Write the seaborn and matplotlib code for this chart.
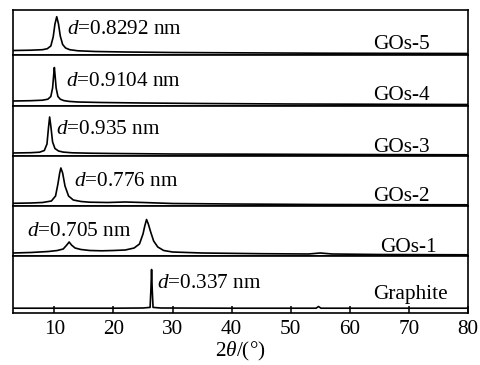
import matplotlib
matplotlib.use("Agg")
import matplotlib.pyplot as plt
import seaborn as sns
import pandas as pd

# ---- data: 2theta (deg) and intensity (a.u.) ----
gos5_x = [3, 6, 8, 8.8, 9.4, 9.8, 10.1, 10.4, 10.7, 11.0, 11.4, 11.9, 12.6, 14, 17, 22, 30, 40, 55, 80]
gos5_y = [4.5, 4.8, 5.3, 6.3, 9, 18, 31, 38.3, 31, 19, 10.5, 7, 5.3, 4.2, 3.5, 3, 2.5, 2.2, 1.8, 1.5]

gos4_x = [3, 6, 8, 8.9, 9.4, 9.7, 9.9, 10.0, 10.1, 10.3, 10.6, 11, 11.6, 12.5, 14, 18, 25, 35, 50, 80]
gos4_y = [5, 5.3, 5.8, 6.8, 9.5, 18, 32, 38.5, 32, 18, 9.5, 6.8, 5.4, 4.6, 4, 3.5, 3, 2.5, 2, 1.5]

gos3_x = [3, 6, 7.5, 8.3, 8.75, 9.0, 9.2, 9.4, 9.7, 10.1, 10.7, 11.5, 13, 16, 20, 30, 45, 60, 80]
gos3_y = [3, 3.3, 3.8, 5.5, 12, 28, 39, 30, 14, 7.5, 5, 3.9, 3.2, 2.8, 2.5, 2, 1.8, 1.5, 1.2]

gos2_x = [3, 6, 8, 9.5, 10.2, 10.6, 10.9, 11.1, 11.4, 11.8, 12.4, 13.2, 14.5, 16, 19, 22, 25, 30, 40, 55, 80]
gos2_y = [2.7, 3, 3.5, 5, 10, 22, 33, 38, 33, 20, 10, 6, 4.5, 3.8, 3.5, 4, 3.5, 2.5, 2, 1.5, 1.2]

gos1_x = [3, 6, 9, 10.5, 11.5, 12.1, 12.5, 12.9, 13.5, 14.5, 16, 18, 20, 22, 23.5, 24.4, 25, 25.3,
          25.6, 25.9, 26.3, 26.8, 27.5, 28.5, 30, 35, 45, 53, 55, 57, 65, 80]
gos1_y = [3, 3.5, 4.5, 5.5, 7, 11, 14, 11, 8, 6.5, 5.5, 5.2, 5.5, 6, 8, 12, 22, 30,
          36.5, 32, 24, 15, 9, 5.5, 4, 3, 2.3, 2, 3, 2, 1.5, 1.2]

graph_x = [3, 10, 20, 25, 26.2, 26.35, 26.45, 26.55, 26.7, 28, 40, 53, 54.3, 54.7, 55.1, 56, 70, 80]
graph_y = [4.8, 4.8, 4.8, 5, 5.6, 25, 43.5, 25, 5.6, 5, 4.8, 4.8, 4.8, 6.5, 4.8, 4.8, 4.8, 4.8]

names = ["GOs-5", "GOs-4", "GOs-3", "GOs-2", "GOs-1", "Graphite"]
d_labels = ["0.8292", "0.9104", "0.935", "0.776", "0.705", "0.337"]
series_x = [gos5_x, gos4_x, gos3_x, gos2_x, gos1_x, graph_x]
series_y = [gos5_y, gos4_y, gos3_y, gos2_y, gos1_y, graph_y]
xticks = [10, 20, 30, 40, 50, 60, 70, 80]

# ---- layout / style ----
panel_h = [45, 51, 50, 50, 50, 57]
d_pos = [(12.2, 25), (12.0, 24), (10.3, 26), (13.4, 24), (5.4, 24), (27.3, 29)]
name_pos = [(63.9, 10.5), (63.9, 10.5), (63.9, 8.5), (63.9, 9.5), (65.1, 8.5), (63.9, 18.5)]

sns.set_theme(style="ticks")
plt.rcParams["font.family"] = ["Liberation Serif", "DejaVu Serif"]
plt.rcParams["mathtext.fontset"] = "custom"
plt.rcParams["mathtext.rm"] = "Liberation Serif"
plt.rcParams["mathtext.it"] = "Liberation Serif:italic"
FS = 15.3

fig = plt.figure(figsize=(4.81, 3.65), dpi=100)
gs = fig.add_gridspec(6, 1, height_ratios=panel_h, hspace=0,
                      left=13 / 481, right=468 / 481, top=1 - 10 / 365, bottom=1 - 313 / 365)

for i in range(6):
    ax = fig.add_subplot(gs[i])
    df = pd.DataFrame({"x": series_x[i], "y": series_y[i]})
    sns.lineplot(data=df, x="x", y="y", ax=ax, color="black", linewidth=1.2)
    ax.set_xlim(3, 80)
    ax.set_ylim(0, panel_h[i])
    ax.set_yticks([])
    ax.set_ylabel("")
    ax.set_xlabel("")
    for s in ax.spines.values():
        s.set_linewidth(1.2)
        s.set_color("black")
    ax.text(d_pos[i][0], d_pos[i][1], r"$d$=" + d_labels[i] + " nm", fontsize=FS,
            va="center", ha="left", color="black")
    ax.text(name_pos[i][0], name_pos[i][1], names[i], fontsize=FS, va="center", ha="left",
            color="black")
    if i < 5:
        ax.set_xticks([])
    else:
        ax.set_xticks(xticks)
        ax.tick_params(axis="x", direction="in", length=5, width=1.1, labelsize=FS,
                       pad=5, colors="black")
        ax.set_xlabel(r"2$\theta$/(°)", fontsize=FS, labelpad=0.5, color="black")

fig.savefig("out.png", dpi=100)
